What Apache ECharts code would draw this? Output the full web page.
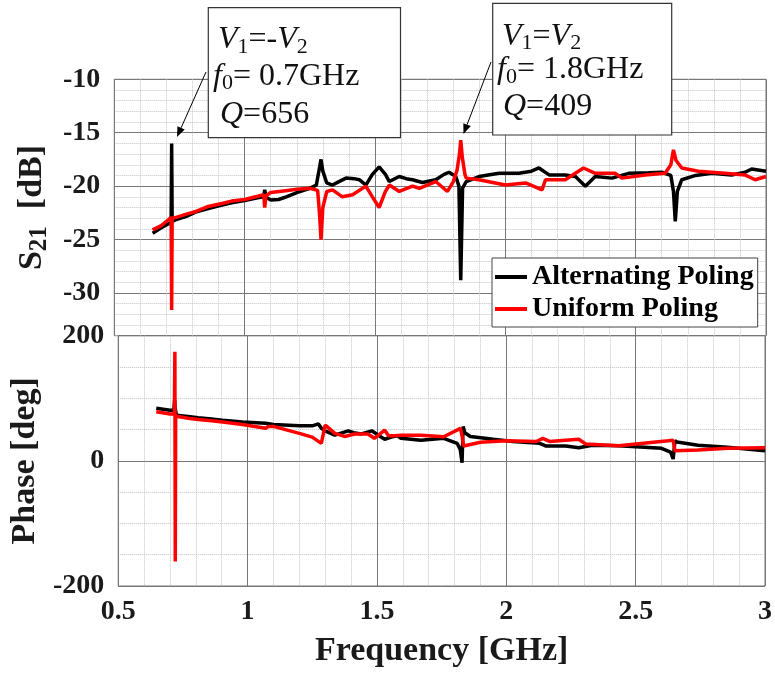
<!DOCTYPE html>
<html><head><meta charset="utf-8">
<script src="https://cdn.jsdelivr.net/npm/echarts@6/dist/echarts.min.js"></script>
<style>html,body{margin:0;padding:0;background:#fff}#c{width:775px;height:676px}</style>
</head><body><div id="c"></div>
<script>
// ---- data ----
const freqTicks = [0.5, 1, 1.5, 2, 2.5, 3];
const s21Ticks = [-30, -25, -20, -15, -10];
const phaseTicks = [-200, 0, 200];
const seriesNames = ['Alternating Poling', 'Uniform Poling'];

const altS21Freq = [0.647,0.68,0.71,0.718,0.72,0.722,0.74,0.78,0.809,0.815,
  0.86,0.917,0.95,1.0,1.05,1.073,1.077,1.082,1.1,1.13,
  1.16,1.2,1.25,1.275,1.287,1.293,1.3,1.315,1.337,1.36,
  1.389,1.42,1.44,1.465,1.49,1.516,1.54,1.555,1.593,1.62,
  1.644,1.682,1.733,1.765,1.784,1.81,1.822,1.829,1.836,1.85,
  1.899,1.976,2.052,2.1,2.129,2.168,2.23,2.269,2.307,2.345,
  2.409,2.473,2.55,2.6,2.635,2.645,2.652,2.66,2.677,2.73,
  2.792,2.868,2.92,2.945,3.0];
const altS21 = [-24.4,-23.9,-23.5,-23.4,-16.0,-23.3,-23.1,-22.8,-22.45,-22.6,
  -22.1,-21.75,-21.55,-21.35,-21.1,-21.0,-20.35,-21.05,-21.3,-21.25,
  -21.0,-20.6,-20.2,-19.9,-18.3,-17.5,-18.6,-19.7,-19.9,-19.6,
  -19.25,-19.3,-19.4,-19.9,-18.9,-18.2,-18.9,-19.57,-19.1,-19.3,
  -19.4,-19.66,-19.4,-18.9,-18.7,-19.1,-20.0,-28.8,-20.2,-19.57,
  -19.1,-18.8,-18.8,-18.6,-18.3,-18.95,-18.95,-19.1,-20.0,-19.1,
  -19.25,-18.8,-18.75,-18.7,-19.0,-20.5,-23.3,-20.5,-19.4,-19.0,
  -18.8,-18.95,-18.7,-18.4,-18.6];

const uniS21Freq = [0.647,0.68,0.71,0.718,0.72,0.722,0.74,0.78,0.809,0.86,
  0.917,0.95,1.0,1.05,1.073,1.077,1.082,1.1,1.15,1.2,
  1.25,1.28,1.287,1.293,1.3,1.315,1.337,1.375,1.414,1.465,
  1.49,1.516,1.54,1.555,1.593,1.644,1.67,1.733,1.778,1.8,
  1.815,1.824,1.829,1.835,1.845,1.85,1.899,2.0,2.078,2.141,
  2.154,2.23,2.3,2.345,2.422,2.447,2.537,2.613,2.635,2.645,
  2.655,2.677,2.741,2.843,2.919,2.958,3.0];
const uniS21 = [-24.1,-23.7,-23.1,-22.9,-31.6,-23.0,-22.9,-22.6,-22.4,-21.9,
  -21.6,-21.4,-21.25,-20.95,-20.8,-22.0,-20.9,-20.6,-20.45,-20.3,
  -20.2,-20.4,-22.5,-25.0,-22.0,-20.5,-20.35,-21.0,-20.8,-20.0,
  -21.0,-22.0,-20.5,-19.9,-20.5,-20.0,-20.2,-19.57,-20.5,-19.6,
  -18.5,-17.0,-15.7,-17.3,-18.9,-19.25,-19.4,-19.9,-19.7,-20.35,
  -19.4,-19.4,-18.3,-18.8,-18.8,-19.25,-18.95,-18.8,-18.0,-16.6,
  -17.6,-18.3,-18.6,-18.8,-18.95,-19.4,-19.1];

const altPhaseFreq = [0.647,0.7,0.715,0.718,0.72,0.725,0.77,0.809,0.86,0.904,
  0.98,1.07,1.1,1.2,1.25,1.274,1.285,1.3,1.337,1.389,
  1.41,1.44,1.48,1.516,1.53,1.555,1.58,1.593,1.67,1.758,
  1.81,1.822,1.829,1.833,1.84,1.861,1.95,2.025,2.129,2.154,
  2.23,2.28,2.332,2.435,2.6,2.635,2.645,2.652,2.66,2.741,
  2.855,3.0];
const altPhase = [84,81,81,97,84,73,71,69,67,65,
  62,60,58,56,56,59,52,48,41,48,
  45,43,48,38,34.5,38,40,36,33,36,
  28,18,-3,55,45,39,34.6,31,28,23.6,
  23.6,21,25,24,20,14,3,32,30,25,
  21.6,16];

const uniPhaseFreq = [0.647,0.7,0.717,0.719,0.7205,0.722,0.73,0.77,0.809,0.86,
  0.904,0.98,1.07,1.08,1.1,1.2,1.25,1.285,1.29,1.3,
  1.315,1.337,1.375,1.414,1.465,1.49,1.53,1.545,1.57,1.593,
  1.67,1.758,1.823,1.829,1.835,1.9,2.0,2.116,2.141,2.167,
  2.28,2.307,2.435,2.626,2.645,2.652,2.741,2.855,3.0];
const uniPhase = [78.6,75,75,174.5,-161,72,71,68,66,64,
  62,58,52,55,55,44,38,28,30,57,
  52,44,39,43,43,36,49,40,40,41,
  41,38.6,52,40,23.6,29.6,32,31,36,31,
  34.6,27,24,32,33,16,17.4,20,21];

// ---- helpers ----
const pairs = (xs, ys) => xs.map((x, i) => [x, ys[i]]);
const FONT = 'Liberation Serif';
const TXT = '#1a1a1a';
const MAJOR = '#777777';
const MINOR = '#c4c4c4';
const BLACK = '#000000';
const RED = '#ff0000';

function arrow(x1, y1, x2, y2) {
  const dx = x2 - x1, dy = y2 - y1, L = Math.hypot(dx, dy);
  const ux = dx / L, uy = dy / L, hl = 10, hw = 4;
  const bx = x2 - ux * hl, by = y2 - uy * hl;
  return [
    {type: 'line', z: 100, shape: {x1: x1, y1: y1, x2: bx, y2: by}, style: {stroke: '#000', lineWidth: 1}},
    {type: 'polygon', z: 100, shape: {points: [[x2, y2], [bx - uy * hw, by + ux * hw], [bx + uy * hw, by - ux * hw]]}, style: {fill: '#000'}}
  ];
}
const annRich = {
  it: {fontStyle: 'italic', fontSize: 32, fontFamily: FONT, lineHeight: 36},
  sub: {fontSize: 22, fontFamily: FONT, lineHeight: 22, verticalAlign: 'bottom'}
};
function annText(x, y, text) {
  return {type: 'text', z: 101, x: x, y: y,
    style: {text: text, fontSize: 32, fontFamily: FONT, lineHeight: 36, fill: '#111',
            verticalAlign: 'middle', align: 'left', rich: annRich}};
}
const annBox = (l, t, r, b) => ({type: 'rect', z: 99, shape: {x: l, y: t, width: r - l, height: b - t},
  style: {fill: '#fff', stroke: '#333', lineWidth: 1.2}});

const xCommon = (gi, showLabels) => ({
  type: 'value', gridIndex: gi, min: freqTicks[0], max: freqTicks[freqTicks.length - 1], interval: 0.5,
  axisLine: {show: false}, axisTick: {show: false},
  minorTick: {show: false, splitNumber: 5},
  splitLine: {show: true, lineStyle: {color: MAJOR, width: 1}},
  minorSplitLine: {show: true, lineStyle: {color: MINOR, width: 1, type: 'dotted'}},
  axisLabel: {show: showLabels, fontFamily: FONT, fontWeight: 'bold', fontSize: 28, color: TXT, margin: 12,
    formatter: v => String(v)}
});

const chart = echarts.init(document.getElementById('c'), null, {renderer: 'canvas'});
chart.setOption({
  animation: false,
  backgroundColor: '#fff',
  grid: [
    {left: 114.3, top: 79.3, width: 651.7, height: 256.4, show: true, borderColor: '#777', borderWidth: 1, backgroundColor: 'transparent'},
    {left: 114.3, top: 335.7, width: 651.7, height: 250.3, show: true, borderColor: '#777', borderWidth: 1, backgroundColor: 'transparent'}
  ],
  xAxis: [
    xCommon(0, false),
    Object.assign(xCommon(1, true), {
      name: 'Frequency [GHz]', nameLocation: 'middle', nameGap: 48,
      nameTextStyle: {fontFamily: FONT, fontWeight: 'bold', fontSize: 34, color: TXT}
    })
  ],
  yAxis: [
    {type: 'value', gridIndex: 0, position: 'right', min: -34, max: -10, interval: 1,
      axisLine: {show: false}, axisTick: {show: false}, axisLabel: {show: false},
      splitLine: {show: true, lineStyle: {color: MINOR, width: 1, type: 'dotted'}}},
    {type: 'value', gridIndex: 0, position: 'left', min: -34, max: -10,
      axisLine: {show: false},
      axisTick: {show: false, customValues: s21Ticks},
      axisLabel: {customValues: s21Ticks, fontFamily: FONT, fontWeight: 'bold', fontSize: 28, color: TXT, margin: 14},
      splitLine: {show: true, lineStyle: {color: MAJOR, width: 1}},
      name: '{m|S}{s|21}{m|  [dB]}', nameLocation: 'middle', nameGap: 62, nameRotate: 90,
      nameTextStyle: {color: TXT, rich: {
        m: {fontFamily: FONT, fontWeight: 'bold', fontSize: 34, lineHeight: 40, color: TXT},
        s: {fontFamily: FONT, fontWeight: 'bold', fontSize: 25, lineHeight: 25, verticalAlign: 'bottom', color: TXT}
      }}},
    {type: 'value', gridIndex: 1, position: 'left', min: phaseTicks[0], max: phaseTicks[2], interval: 200,
      axisLine: {show: false}, axisTick: {show: false},
      minorTick: {show: false, splitNumber: 4},
      splitLine: {show: true, lineStyle: {color: MAJOR, width: 1}},
      minorSplitLine: {show: true, lineStyle: {color: MINOR, width: 1, type: 'dotted'}},
      axisLabel: {fontFamily: FONT, fontWeight: 'bold', fontSize: 28, color: TXT, margin: 14},
      name: 'Phase [deg]', nameLocation: 'middle', nameGap: 62, nameRotate: 90,
      nameTextStyle: {fontFamily: FONT, fontWeight: 'bold', fontSize: 34, color: TXT}}
  ],
  legend: {
    data: seriesNames, orient: 'vertical', left: 492, top: 258,
    padding: [3, 4, 2, 3], itemGap: 0, itemWidth: 32, itemHeight: 4, icon: 'rect',
    backgroundColor: '#fff', borderColor: '#444', borderWidth: 1,
    selectedMode: false, z: 50,
    textStyle: {fontFamily: FONT, fontWeight: 'bold', fontSize: 28, lineHeight: 32, color: '#000'}
  },
  series: [
    {name: seriesNames[0], type: 'line', xAxisIndex: 0, yAxisIndex: 1, data: pairs(altS21Freq, altS21),
      symbol: 'none', lineStyle: {color: BLACK, width: 3.5}, itemStyle: {color: BLACK}, z: 3},
    {name: seriesNames[1], type: 'line', xAxisIndex: 0, yAxisIndex: 1, data: pairs(uniS21Freq, uniS21),
      symbol: 'none', lineStyle: {color: RED, width: 3.5}, itemStyle: {color: RED}, z: 4},
    {name: seriesNames[0], type: 'line', xAxisIndex: 1, yAxisIndex: 2, data: pairs(altPhaseFreq, altPhase),
      symbol: 'none', lineStyle: {color: BLACK, width: 3.5}, itemStyle: {color: BLACK}, z: 3},
    {name: seriesNames[1], type: 'line', xAxisIndex: 1, yAxisIndex: 2, data: pairs(uniPhaseFreq, uniPhase),
      symbol: 'none', lineStyle: {color: RED, width: 3.5}, itemStyle: {color: RED}, z: 4}
  ],
  graphic: [
    annBox(208.3, 7.7, 400.5, 137.7),
    annText(218, 40, '{it|V}{sub|1}=-{it|V}{sub|2}'),
    annText(213, 76.7, '{it|f}{sub|0}= 0.7GHz'),
    annText(220, 114.3, '{it|Q}=656'),
    ...arrow(206, 72, 177, 137),
    annBox(492.7, 3.3, 671.7, 135),
    annText(502, 36.7, '{it|V}{sub|1}={it|V}{sub|2}'),
    annText(497, 70, '{it|f}{sub|0}= 1.8GHz'),
    annText(503, 106.7, '{it|Q}=409'),
    ...arrow(491, 62, 463.5, 134)
  ]
});
</script>
</body></html>
